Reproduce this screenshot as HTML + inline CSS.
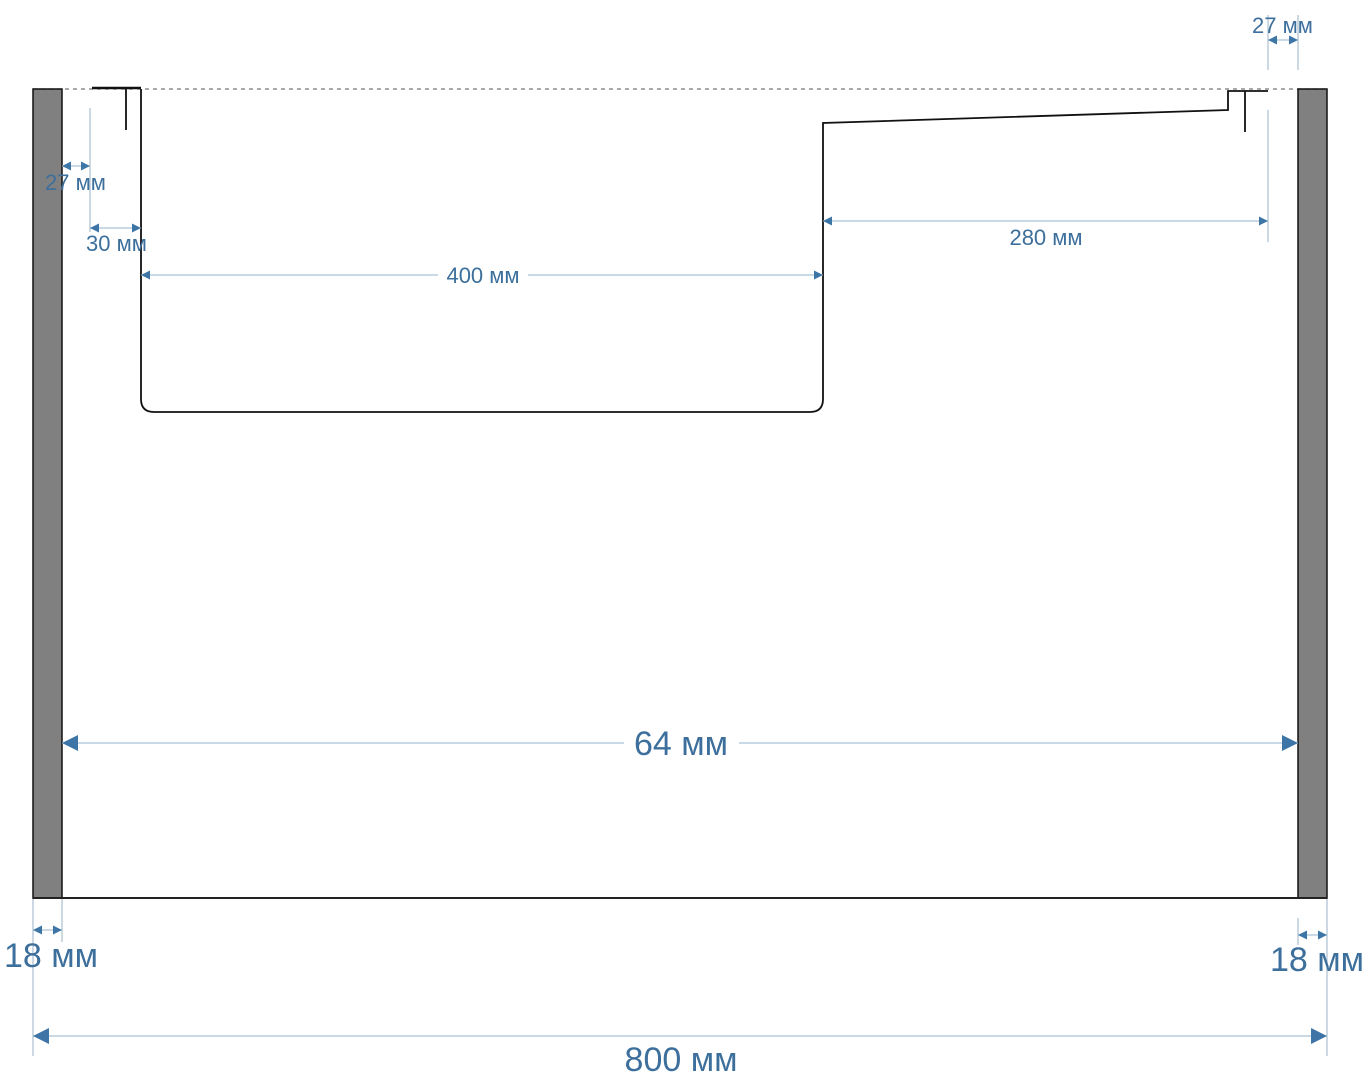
<!DOCTYPE html>
<html><head><meta charset="utf-8"><style>html,body{margin:0;padding:0;background:#fff}svg{display:block}</style></head>
<body>
<svg width="1368" height="1080" viewBox="0 0 1368 1080" xmlns="http://www.w3.org/2000/svg" font-family="Liberation Sans, sans-serif">
<defs>
<marker id="s" viewBox="0 0 10 10" refX="10" refY="5" markerWidth="12" markerHeight="9" markerUnits="userSpaceOnUse" orient="auto-start-reverse"><path d="M0,0L10,5L0,10z" fill="#3d75a6"/></marker>
<marker id="b" viewBox="0 0 10 10" refX="10" refY="5" markerWidth="30" markerHeight="16" markerUnits="userSpaceOnUse" orient="auto-start-reverse"><path d="M0,0L10,5L0,10z" fill="#3d75a6"/></marker>
</defs>
<g stroke="#a9bfd0" stroke-width="1.2">
<line x1="90" y1="108" x2="90" y2="232"/>
<line x1="1268" y1="110" x2="1268" y2="242"/>
<line x1="1268" y1="15" x2="1268" y2="70"/>
<line x1="1298" y1="15" x2="1298" y2="70"/>
<line x1="33" y1="898" x2="33" y2="1056"/>
<line x1="62" y1="898" x2="62" y2="942"/>
<line x1="1327" y1="898" x2="1327" y2="1056"/>
<line x1="1298" y1="918" x2="1298" y2="945"/>
</g>
<line x1="33" y1="89" x2="1327" y2="89" stroke="#777" stroke-width="1.2" stroke-dasharray="4,4"/>
<rect x="33" y="89" width="29" height="809" fill="#808080" stroke="#111" stroke-width="1.5"/>
<rect x="1298" y="89" width="29" height="809" fill="#808080" stroke="#111" stroke-width="1.5"/>
<line x1="33" y1="898" x2="1327" y2="898" stroke="#222" stroke-width="2"/>
<g fill="none" stroke="#111" stroke-width="1.8">
<line x1="92" y1="88" x2="141" y2="88" stroke-width="2.5"/>
<line x1="126" y1="89" x2="126" y2="130"/>
<path d="M141,89 L141,399 Q141,412 154,412 L810,412 Q823,412 823,399 L823,123 L1228,110 L1228,91 L1268,91"/>
<line x1="1245" y1="91" x2="1245" y2="132"/>
</g>
<g stroke="#a9c2d6" stroke-width="1.3" fill="none">
<line x1="62" y1="166" x2="90" y2="166" marker-start="url(#s)" marker-end="url(#s)"/>
<line x1="90" y1="228" x2="141" y2="228" marker-start="url(#s)" marker-end="url(#s)"/>
<line x1="141" y1="275" x2="438" y2="275" marker-start="url(#s)"/>
<line x1="528" y1="275" x2="823" y2="275" marker-end="url(#s)"/>
<line x1="823" y1="221" x2="1268" y2="221" marker-start="url(#s)" marker-end="url(#s)"/>
<line x1="1268" y1="40" x2="1298" y2="40" marker-start="url(#s)" marker-end="url(#s)"/>
<line x1="62" y1="743" x2="624" y2="743" marker-start="url(#b)"/>
<line x1="739" y1="743" x2="1298" y2="743" marker-end="url(#b)"/>
<line x1="33" y1="930" x2="62" y2="930" marker-start="url(#s)" marker-end="url(#s)"/>
<line x1="1298" y1="935" x2="1327" y2="935" marker-start="url(#s)" marker-end="url(#s)"/>
<line x1="33" y1="1036" x2="1327" y2="1036" marker-start="url(#b)" marker-end="url(#b)"/>
</g>
<g fill="#3d6f9c">
<text x="45" y="190" font-size="22">27 мм</text>
<text x="86" y="251" font-size="22">30 мм</text>
<text x="483" y="283" font-size="22" text-anchor="middle">400 мм</text>
<text x="1046" y="245" font-size="22" text-anchor="middle">280 мм</text>
<text x="1252" y="33" font-size="22">27 мм</text>
<text x="681" y="755" font-size="34" text-anchor="middle">64 мм</text>
<text x="4" y="967" font-size="34">18 мм</text>
<text x="1270" y="971" font-size="34">18 мм</text>
<text x="681" y="1071" font-size="34" text-anchor="middle">800 мм</text>
</g>
</svg>
</body></html>
